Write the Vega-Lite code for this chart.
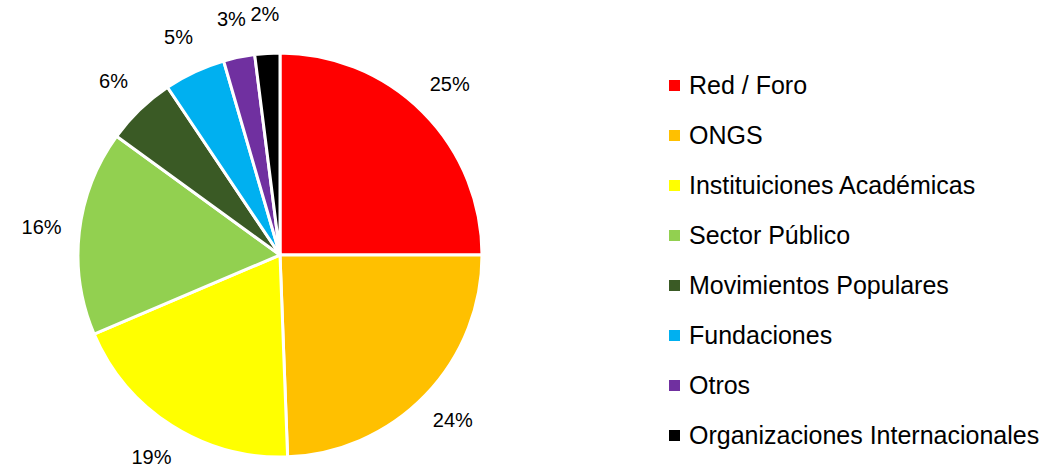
{
  "$schema": "https://vega.github.io/schema/vega-lite/v6.json",
  "autosize": "none",
  "width": 560,
  "height": 438,
  "padding": {"left": 0, "top": 36, "right": 496, "bottom": 0},
  "background": "white",
  "data": {
    "values": [
      {"idx": 1, "category": "Red / Foro", "value": 25.0, "label": "25%"},
      {"idx": 2, "category": "ONGS", "value": 24.4, "label": "24%"},
      {"idx": 3, "category": "Instituiciones Académicas", "value": 19.2, "label": "19%"},
      {"idx": 4, "category": "Sector Público", "value": 16.4, "label": "16%"},
      {"idx": 5, "category": "Movimientos Populares", "value": 5.6, "label": "6%"},
      {"idx": 6, "category": "Fundaciones", "value": 4.9, "label": "5%"},
      {"idx": 7, "category": "Otros", "value": 2.5, "label": "3%"},
      {"idx": 8, "category": "Organizaciones Internacionales", "value": 2.0, "label": "2%"}
    ]
  },
  "encoding": {
    "theta": {"field": "value", "type": "quantitative", "stack": true},
    "order": {"field": "idx", "type": "quantitative"}
  },
  "layer": [
    {
      "mark": {"type": "arc", "outerRadius": 202, "stroke": "white", "strokeWidth": 3},
      "encoding": {
        "color": {
          "field": "category",
          "type": "nominal",
          "scale": {
            "domain": ["Red / Foro", "ONGS", "Instituiciones Académicas", "Sector Público", "Movimientos Populares", "Fundaciones", "Otros", "Organizaciones Internacionales"],
            "range": ["#FF0000", "#FFC000", "#FFFF00", "#92D050", "#3A5A25", "#00B0F0", "#7030A0", "#000000"]
          },
          "legend": {
            "title": null,
            "orient": "none",
            "legendX": 662,
            "legendY": 37,
            "symbolType": "square",
            "symbolSize": 121,
            "symbolStrokeWidth": 0,
            "labelFont": "Liberation Sans",
            "labelFontSize": 25,
            "labelColor": "#000000",
            "labelOffset": 2,
            "labelLimit": 400,
            "rowPadding": 24
          }
        }
      }
    },
    {
      "mark": {"type": "text", "radius": 240, "font": "Liberation Sans", "fontSize": 20, "color": "#000000", "align": "center", "baseline": "middle"},
      "encoding": {
        "text": {"field": "label", "type": "nominal"}
      }
    }
  ]
}
